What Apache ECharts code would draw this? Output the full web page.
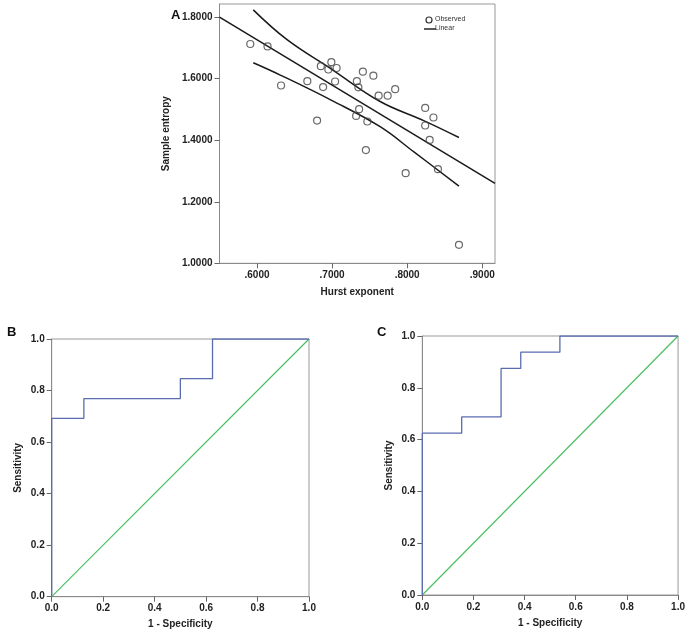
<!DOCTYPE html>
<html>
<head>
<meta charset="utf-8">
<script src="https://cdn.jsdelivr.net/npm/echarts@6/dist/echarts.min.js"></script>
<style>
html,body{margin:0;padding:0;background:#fff;}
#chart{width:688px;height:633px;}
</style>
</head>
<body>
<div id="chart"></div>
<script>
// ---- Panel A: scatter data ----
var hurstX = [0.591,0.614,0.632,0.667,0.680,0.685,0.688,0.695,0.699,0.704,0.706,0.733,0.735,0.736,0.732,0.741,0.747,0.755,0.762,0.774,0.784,0.824,0.835,0.824,0.830,0.745,0.798,0.841,0.869];
var entropyY = [1.713,1.705,1.578,1.592,1.464,1.641,1.573,1.630,1.654,1.591,1.635,1.592,1.572,1.501,1.479,1.623,1.461,1.610,1.545,1.545,1.566,1.505,1.474,1.448,1.401,1.368,1.293,1.306,1.060];
// fit line endpoints
var fitX = [0.55, 0.917];
var fitY = [1.800, 1.260];
// confidence band points
var upperX = [0.595,0.640,0.700,0.764,0.822,0.869];
var upperY = [1.824,1.727,1.630,1.526,1.464,1.409];
var lowerX = [0.595,0.631,0.700,0.764,0.809,0.869];
var lowerY = [1.652,1.612,1.529,1.444,1.362,1.251];
var aXTicks = [0.6,0.7,0.8,0.9];
var aYTicks = [1.0,1.2,1.4,1.6,1.8];
var legendNames = ['Observed','Linear'];

// ---- Panel B ROC ----
var rocBx = [0,0,0.125,0.125,0.5,0.5,0.625,0.625,1];
var rocBy = [0,0.692,0.692,0.769,0.769,0.846,0.846,1,1];
// ---- Panel C ROC ----
var rocCx = [0,0,0.154,0.154,0.308,0.308,0.385,0.385,0.538,0.538,1];
var rocCy = [0,0.625,0.625,0.6875,0.6875,0.875,0.875,0.9375,0.9375,1,1];
var refX = [0,1];
var refY = [0,1];
var rocTicks = [0,0.2,0.4,0.6,0.8,1.0];

function zip(a,b){return a.map(function(v,i){return [v,b[i]];});}

var txt = '#222';
var axisCol = '#8a8a8a';
var font = 'Arial, "Liberation Sans", sans-serif';

function valAxis(opts){
  return {
    type:'value', gridIndex: opts.grid, min: opts.min, max: opts.max,
    name: opts.name, nameLocation:'middle', nameGap: opts.nameGap,
    nameTextStyle:{color:txt, fontSize:10, fontWeight:'bold', fontFamily:font},
    axisLine:{show:true, onZero:false, lineStyle:{color:axisCol, width:1}},
    axisTick:{show:true, length:5, lineStyle:{color:'#666'}, customValues: opts.ticks},
    axisLabel:{color:txt, fontSize:10, fontWeight:'bold', fontFamily:font, margin:opts.margin, customValues: opts.ticks, formatter: opts.fmt},
    splitLine:{show:false}
  };
}

var fmtA = function(v){ return v.toFixed(4).replace(/^0/,''); };
var fmtAy = function(v){ return v.toFixed(4); };
var fmtR = function(v){ return v.toFixed(1); };

var chart = echarts.init(document.getElementById('chart'), null, {renderer:'canvas'});
var option = {
  backgroundColor:'#fff',
  animation:false,
  title:[
    {text:'A', left:166, top:4, textStyle:{fontSize:13, fontWeight:'bold', color:'#111', fontFamily:font}},
    {text:'B', left:2, top:321, textStyle:{fontSize:13, fontWeight:'bold', color:'#111', fontFamily:font}},
    {text:'C', left:372, top:321, textStyle:{fontSize:13, fontWeight:'bold', color:'#111', fontFamily:font}}
  ],
  graphic:[
    {type:'circle', shape:{cx:429, cy:20, r:3}, style:{fill:'none', stroke:'#333', lineWidth:1.2}},
    {type:'text', left:435, top:16, style:{text:legendNames[0], fontSize:7, fill:'#333', fontFamily:font}},
    {type:'line', shape:{x1:424, y1:29, x2:436, y2:29}, style:{stroke:'#222', lineWidth:1.5}},
    {type:'text', left:435, top:25, style:{text:legendNames[1], fontSize:7, fill:'#333', fontFamily:font}}
  ],
  grid:[
    {left:219.5, top:4, width:275.5, height:259.3, show:true, borderColor:'#999', borderWidth:1},
    {left:51.7, top:339, width:257.3, height:257.7, show:true, borderColor:'#999', borderWidth:1},
    {left:422.3, top:336, width:257.4, height:259, show:true, borderColor:'#999', borderWidth:1}
  ],
  xAxis:[
    valAxis({grid:0, min:0.55, max:0.917, ticks:aXTicks, fmt:fmtA, name:'Hurst exponent', nameGap:24, margin:7}),
    valAxis({grid:1, min:0, max:1, ticks:rocTicks, fmt:fmtR, name:'1 - Specificity', nameGap:23, margin:7}),
    valAxis({grid:2, min:0, max:1, ticks:rocTicks, fmt:fmtR, name:'1 - Specificity', nameGap:23, margin:7})
  ],
  yAxis:[
    valAxis({grid:0, min:1.0, max:1.843, ticks:aYTicks, fmt:fmtAy, name:'Sample entropy', nameGap:48, margin:7}),
    valAxis({grid:1, min:0, max:1, ticks:rocTicks, fmt:fmtR, name:'Sensitivity', nameGap:28, margin:7}),
    valAxis({grid:2, min:0, max:1, ticks:rocTicks, fmt:fmtR, name:'Sensitivity', nameGap:28, margin:7})
  ],
  series:[
    {name:'Linear', type:'line', xAxisIndex:0, yAxisIndex:0, data:zip(fitX,fitY), symbol:'none', lineStyle:{color:'#1a1a1a', width:1.5}, z:3},
    {name:'upper', type:'line', xAxisIndex:0, yAxisIndex:0, data:zip(upperX,upperY), symbol:'none', smooth:0.4, lineStyle:{color:'#1a1a1a', width:1.5}, z:3},
    {name:'lower', type:'line', xAxisIndex:0, yAxisIndex:0, data:zip(lowerX,lowerY), symbol:'none', smooth:0.4, lineStyle:{color:'#1a1a1a', width:1.5}, z:3},
    {name:'Observed', type:'scatter', xAxisIndex:0, yAxisIndex:0, data:zip(hurstX,entropyY), symbol:'circle', symbolSize:7,
      itemStyle:{color:'rgba(255,255,255,0)', borderColor:'#444', borderWidth:1.2}, z:4},
    {name:'rocB', type:'line', xAxisIndex:1, yAxisIndex:1, data:zip(rocBx,rocBy), symbol:'none', lineStyle:{color:'#5a6cb0', width:1.3}, z:4},
    {name:'refB', type:'line', xAxisIndex:1, yAxisIndex:1, data:zip(refX,refY), symbol:'none', lineStyle:{color:'#4cbf62', width:1.2}, z:3},
    {name:'rocC', type:'line', xAxisIndex:2, yAxisIndex:2, data:zip(rocCx,rocCy), symbol:'none', lineStyle:{color:'#5a6cb0', width:1.3}, z:4},
    {name:'refC', type:'line', xAxisIndex:2, yAxisIndex:2, data:zip(refX,refY), symbol:'none', lineStyle:{color:'#4cbf62', width:1.2}, z:3}
  ]
};
chart.setOption(option);
</script>
</body>
</html>
